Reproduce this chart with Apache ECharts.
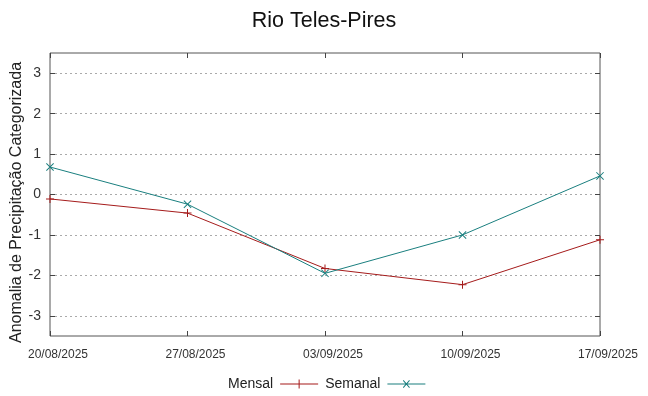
<!DOCTYPE html>
<html>
<head>
<meta charset="utf-8">
<script src="https://cdn.jsdelivr.net/npm/echarts@6/dist/echarts.min.js"></script>
<style>html,body{margin:0;padding:0;background:#fff}#c{width:648px;height:396px}</style>
</head>
<body>
<div id="c"></div>
<script>
var categories = ['20/08/2025', '27/08/2025', '03/09/2025', '10/09/2025', '17/09/2025'];
var mensal = [-0.11, -0.46, -1.83, -2.23, -1.12];
var semanal = [0.68, -0.24, -1.95, -1.0, 0.46];
var yTicks = [-3, -2, -1, 0, 1, 2, 3];

var FONT = 'Liberation Sans, Arial, sans-serif';
var RED = '#a51b1b';
var TEAL = '#1a7f7f';
var plusPath = 'path://M0,3.5h8v1h-8z M3.5,0h1v8h-1z';
var xPath = 'path://M0,0.7L0.7,0L8,7.3L7.3,8Z M7.3,0L8,0.7L0.7,8L0,7.3Z';
var legPlus = 'path://M0,4h38v1h-38z M18.5,0h1v9h-1z';
var legX = 'path://M0,4h38v1h-38z M15.5,1.3L16.2,0.6L22.5,7.7L21.8,8.4Z M21.8,0.6L22.5,1.3L16.2,8.4L15.5,7.7Z';

var chart = echarts.init(document.getElementById('c'), null, {renderer: 'canvas'});
chart.setOption({
  animation: false,
  backgroundColor: '#fff',
  textStyle: {fontFamily: FONT},
  title: {
    text: 'Rio Teles-Pires', left: 'center', top: 5,
    textStyle: {fontFamily: FONT, fontSize: 21.5, fontWeight: 'normal', color: '#111'}
  },
  legend: {
    bottom: 0, left: 223, align: 'right', itemGap: 7, itemWidth: 38, itemHeight: 9,
    textStyle: {fontFamily: FONT, fontSize: 14, color: '#222', padding: [0, 2, 0, 0]},
    data: [
      {name: 'Mensal', icon: legPlus, itemStyle: {color: RED}},
      {name: 'Semanal', icon: legX, itemStyle: {color: TEAL}}
    ]
  },
  grid: {left: 50, right: 48, top: 53, bottom: 60, containLabel: false, outerBoundsMode: 'none',
    show: true, borderColor: '#555', borderWidth: 1, backgroundColor: 'transparent'},
  xAxis: [{
    type: 'category', data: categories, boundaryGap: false,
    axisLine: {show: false, onZero: false},
    axisTick: {show: true, inside: true, length: 5, lineStyle: {color: '#444'}},
    axisLabel: {fontFamily: FONT, fontSize: 12, color: '#333', margin: 13, padding: [0, 0, 0, 16],
      showMinLabel: true, showMaxLabel: true, interval: 0, hideOverlap: false},
    splitLine: {show: false}
  }, {
    type: 'category', data: categories, boundaryGap: false, position: 'top',
    axisLine: {show: false, onZero: false},
    axisTick: {show: true, inside: true, length: 5, lineStyle: {color: '#444'}},
    axisLabel: {show: false},
    splitLine: {show: false}
  }],
  yAxis: [{
    type: 'value', min: -3.5, max: 3.5, interval: 0.5,
    name: 'Anomalia de Precipitação Categorizada', nameLocation: 'middle', nameGap: 25, nameMoveOverlap: false,
    nameTextStyle: {fontFamily: FONT, fontSize: 16, color: '#222', padding: [0, 16, 0, 0]},
    axisLine: {show: false, onZero: false},
    axisTick: {show: true, inside: true, length: 5, customValues: yTicks, lineStyle: {color: '#444'}},
    axisLabel: {fontFamily: FONT, fontSize: 14, color: '#333', margin: 9, customValues: yTicks},
    splitLine: {show: true, lineStyle: {color: '#aaa', type: [2, 3], width: 1}}
  }, {
    type: 'value', min: -3.5, max: 3.5, interval: 0.5, position: 'right',
    axisLine: {show: false, onZero: false},
    axisTick: {show: true, inside: true, length: 5, customValues: yTicks, lineStyle: {color: '#444'}},
    axisLabel: {show: false},
    splitLine: {show: false}
  }],
  series: [{
    name: 'Mensal', type: 'line', data: mensal,
    symbol: plusPath, symbolSize: 8, showSymbol: true,
    lineStyle: {color: RED, width: 1}, itemStyle: {color: RED}, z: 3
  }, {
    name: 'Semanal', type: 'line', data: semanal,
    symbol: xPath, symbolSize: 8, showSymbol: true,
    lineStyle: {color: TEAL, width: 1}, itemStyle: {color: TEAL}, z: 4
  }]
});
</script>
</body>
</html>
